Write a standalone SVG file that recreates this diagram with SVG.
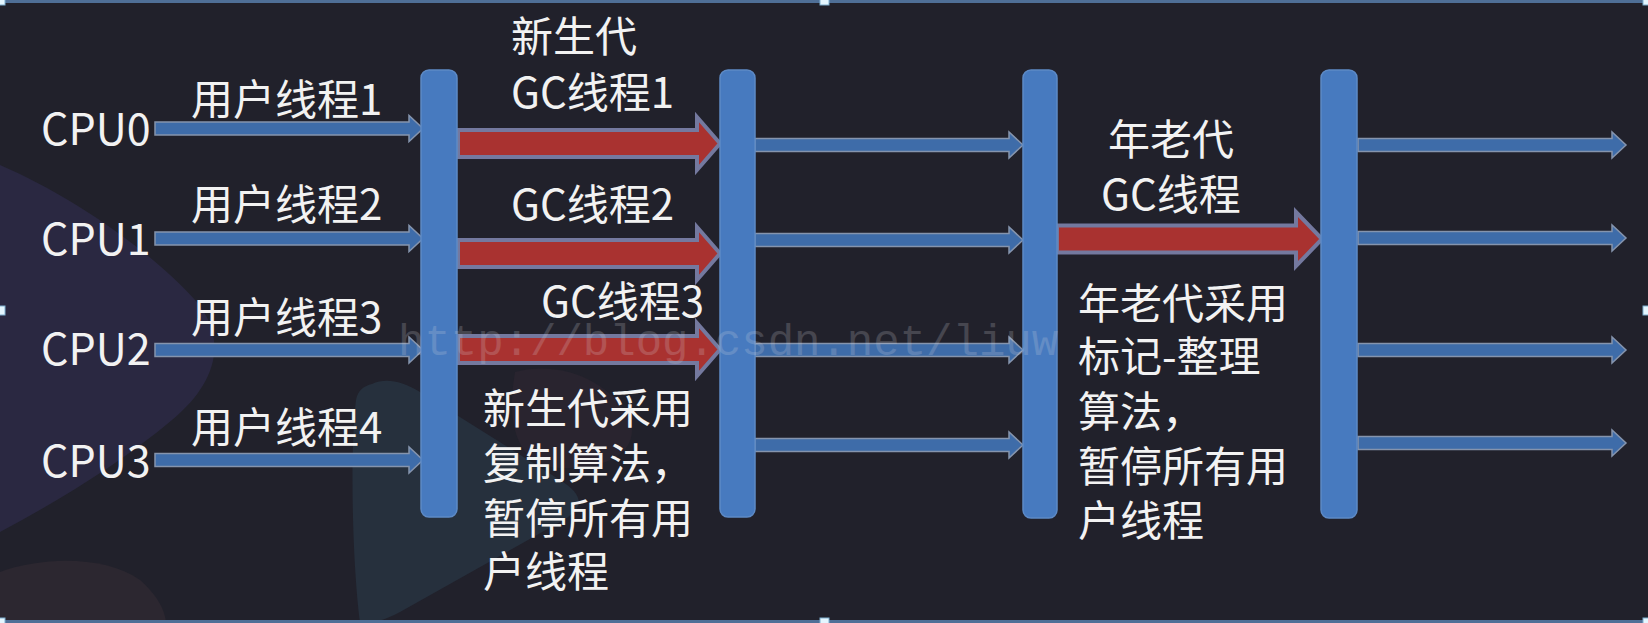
<svg xmlns="http://www.w3.org/2000/svg" width="1648" height="623" viewBox="0 0 1648 623">
<style>
.t{font-family:"Noto Sans CJK SC","Noto Sans",sans-serif;font-size:42px;fill:#f2f2f2}
.cpu{font-size:43px}
.bar{fill:#477abf;stroke:#5d8ac6;stroke-width:1.5}
.ba{fill:#3e6ca9;stroke:#8594ad;stroke-width:1.5}
.ra{fill:#a93230;stroke:#74799f;stroke-width:4;stroke-linejoin:miter}
.h{fill:#e4f6ff;stroke:#7fb0d0;stroke-width:1}
.wm{font-family:"Liberation Mono",monospace;font-size:44px;fill:#d8d8e0;opacity:0.2}
</style>
<defs>
<path id="barrow" d="M0,-6.5 H254 V-13 L268,0 L254,13 V6.5 H0 Z"/>
</defs>
<rect width="1648" height="623" fill="#21212b"/>
<g id="background">
<path d="M0,165 C70,195 150,250 195,300 C228,338 218,382 172,420 C122,462 60,500 0,532 Z" fill="#2a2841"/>
<path d="M0,572 C45,556 105,556 140,580 C160,598 165,612 166,623 L0,623 Z" fill="#2c2730"/>
<path d="M372,384 C385,378 400,380 420,392 L560,480 C585,496 585,508 560,522 L400,612 C385,620 375,623 360,623 C352,560 350,450 356,400 C358,390 364,386 372,384 Z" fill="#26303d"/>
<path d="M515,372 C560,360 610,380 630,420 C640,450 610,470 560,468 C520,466 505,430 515,372 Z" fill="#29242f"/>
</g>
<rect x="0" y="0" width="1648" height="3" fill="#4f6f97"/>
<rect x="0" y="620" width="1648" height="3" fill="#4f6f97"/>
<g id="connectors">
<use href="#barrow" class="ba" transform="translate(155,128.5)"/>
<use href="#barrow" class="ba" transform="translate(155,238.5)"/>
<use href="#barrow" class="ba" transform="translate(155,350)"/>
<use href="#barrow" class="ba" transform="translate(155,460)"/>
<path class="ra" d="M458,130 H697 V117 L720,143.5 L697,170 V157 H458 Z"/>
<path class="ra" d="M458,240 H697 V227 L720,253.5 L697,280 V267 H458 Z"/>
<path class="ra" d="M458,336 H697 V323 L720,349.5 L697,376 V363 H458 Z"/>
<use href="#barrow" class="ba" transform="translate(755,145)"/>
<use href="#barrow" class="ba" transform="translate(755,240)"/>
<use href="#barrow" class="ba" transform="translate(755,350)"/>
<use href="#barrow" class="ba" transform="translate(755,445)"/>
<path class="ra" d="M1057,225.5 H1296 V212 L1322,239 L1296,266 V252.5 H1057 Z"/>
<use href="#barrow" class="ba" transform="translate(1358,145)"/>
<use href="#barrow" class="ba" transform="translate(1358,238)"/>
<use href="#barrow" class="ba" transform="translate(1358,350)"/>
<use href="#barrow" class="ba" transform="translate(1358,443)"/>
</g>
<g id="bar1"><rect class="bar" x="421" y="70" width="36" height="447" rx="8"/></g>
<g id="bar2"><rect class="bar" x="720" y="70" width="35" height="447" rx="8"/></g>
<g id="bar3"><rect class="bar" x="1023" y="70" width="34" height="448" rx="8"/></g>
<g id="bar4"><rect class="bar" x="1321" y="70" width="36" height="448" rx="8"/></g>
<g id="cpu0"><text class="t cpu" x="41" y="145">CPU0</text></g>
<g id="cpu1"><text class="t cpu" x="41" y="255">CPU1</text></g>
<g id="cpu2"><text class="t cpu" x="41" y="365">CPU2</text></g>
<g id="cpu3"><text class="t cpu" x="41" y="477">CPU3</text></g>
<g id="labels-user">
<text class="t" x="191" y="115">用户线程1</text>
<text class="t" x="191" y="220">用户线程2</text>
<text class="t" x="191" y="333">用户线程3</text>
<text class="t" x="191" y="443">用户线程4</text>
</g>
<g id="labels-young">
<text class="t" x="511" y="52">新生代<tspan x="511" y="108">GC线程1</tspan></text>
<text class="t" x="511" y="220">GC线程2</text>
<text class="t" x="541" y="317">GC线程3</text>
</g>
<g id="note-young">
<text class="t" x="483" y="424">新生代采用<tspan x="483" y="479">复制算法，</tspan><tspan x="483" y="534">暂停所有用</tspan><tspan x="483" y="587">户线程</tspan></text>
</g>
<g id="labels-old">
<text class="t" x="1108" y="155">年老代<tspan x="1101" y="210">GC线程</tspan></text>
</g>
<g id="note-old">
<text class="t" x="1078" y="319">年老代采用<tspan x="1078" y="372">标记-整理</tspan><tspan x="1078" y="427">算法，</tspan><tspan x="1078" y="482">暂停所有用</tspan><tspan x="1078" y="536">户线程</tspan></text>
</g>
<text class="wm" x="398" y="355">http://blog.csdn.net/liuw</text>
<g id="handles">
<rect class="h" x="-4" y="-4" width="9" height="9"/>
<rect class="h" x="820" y="-4" width="9" height="9"/>
<rect class="h" x="1643" y="-4" width="9" height="9"/>
<rect class="h" x="-4" y="306" width="9" height="9"/>
<rect class="h" x="1643" y="306" width="9" height="9"/>
<rect class="h" x="-4" y="618" width="9" height="9"/>
<rect class="h" x="820" y="618" width="9" height="9"/>
<rect class="h" x="1643" y="618" width="9" height="9"/>
</g>
</svg>
